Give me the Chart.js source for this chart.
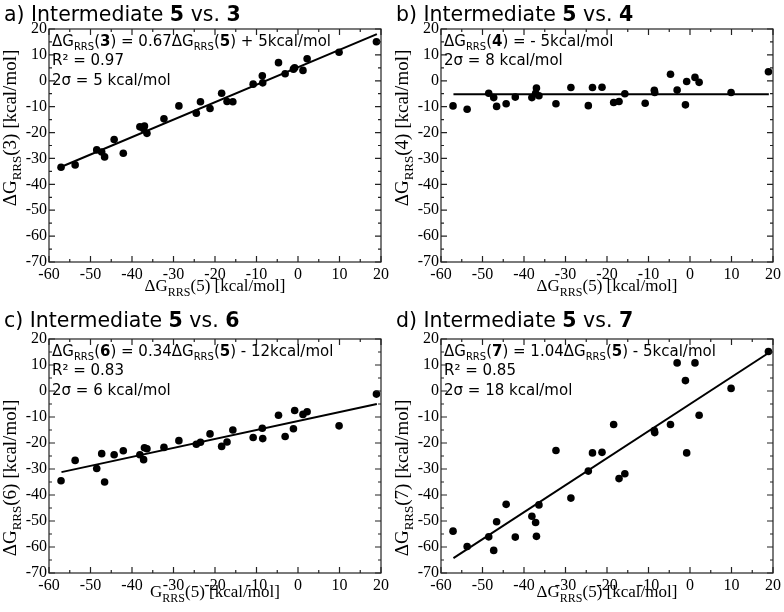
<!DOCTYPE html>
<html>
<head>
<meta charset="utf-8">
<script src="https://cdn.jsdelivr.net/npm/chart.js@4.4.1/dist/chart.umd.min.js"></script>
<style>
  html, body { margin: 0; padding: 0; background: #fff; }
  #wrap { position: relative; width: 784px; height: 612px; }
  .panel { position: absolute; width: 392px; height: 306px; }
</style>
</head>
<body>
<div id="wrap">
  <div class="panel" style="left:0;top:0"><canvas id="c0"></canvas></div>
  <div class="panel" style="left:392px;top:0"><canvas id="c1"></canvas></div>
  <div class="panel" style="left:0;top:306px"><canvas id="c2"></canvas></div>
  <div class="panel" style="left:392px;top:306px"><canvas id="c3"></canvas></div>
</div>
<script>
'use strict';

// x values: dG_RRS(5), shared by all four panels
const xVals = [-57.1, -53.7, -48.5, -47.3, -46.6, -44.3, -42.1, -38.1, -37.2, -37.0,
    -36.4, -32.3, -28.7, -24.5, -23.5, -21.2, -18.4, -17.1, -15.7, -10.8,
    -8.6, -8.5, -4.7, -3.1, -1.1, -0.8, 1.2, 2.2, 9.9, 18.9];

const yVals3 = [-33.4, -32.5, -26.7, -27.5, -29.4, -22.7, -28.0, -17.8, -18.5, -17.5,
    -20.3, -14.7, -9.7, -12.5, -8.1, -10.7, -4.8, -8.0, -8.1, -1.3,
    1.9, -0.8, 7.0, 2.7, 4.5, 5.0, 4.0, 8.5, 11.0, 15.1];

const yVals4 = [-9.7, -11.0, -4.8, -6.5, -9.9, -8.9, -6.3, -6.5, -4.8, -2.8,
    -5.8, -8.9, -2.6, -9.6, -2.6, -2.5, -8.4, -8.0, -5.0, -8.7,
    -3.7, -4.5, 2.5, -3.6, -9.3, -0.3, 1.3, -0.6, -4.5, 3.5];

const yVals6 = [-34.5, -26.7, -29.8, -24.1, -35.0, -24.5, -23.0, -24.5, -26.4, -21.8,
    -22.2, -21.7, -19.1, -20.5, -19.7, -16.5, -21.3, -19.6, -15.0, -17.9,
    -14.3, -18.3, -9.3, -17.5, -14.5, -7.5, -9.0, -8.0, -13.4, -1.2];

const yVals7 = [-53.9, -59.8, -56.1, -61.3, -50.3, -43.6, -56.2, -48.2, -50.6, -55.9,
    -43.8, -22.9, -41.2, -30.8, -23.8, -23.6, -12.9, -33.7, -31.8, null,
    -15.2, -16.0, -12.9, 10.8, 4.0, -23.8, 10.8, -9.3, 1.0, 15.2];

// regression line end points
const fitX = [-57, 19];
const fitY3 = [-33.2, 18.0];
const fitY4 = [-5.2, -5.2];
const fitY6 = [-31.2, -5.0];
const fitY7 = [-64.3, 14.7];

const panelLetters = ['a', 'b', 'c', 'd'];
const compounds = ['3', '4', '6', '7'];
const yData = [yVals3, yVals4, yVals6, yVals7];
const fitData = [fitY3, fitY4, fitY6, fitY7];
const statLines = [
    [[{t: '0.67'}, {t: 'ΔG'}, {t: 'RRS', sub: true}, {t: '('}, {t: '5', b: true}, {t: ') + 5kcal/mol'}], 'R² = 0.97', '2σ = 5 kcal/mol'],
    [[{t: '- 5kcal/mol'}], '2σ = 8 kcal/mol'],
    [[{t: '0.34'}, {t: 'ΔG'}, {t: 'RRS', sub: true}, {t: '('}, {t: '5', b: true}, {t: ') - 12kcal/mol'}], 'R² = 0.83', '2σ = 6 kcal/mol'],
    [[{t: '1.04'}, {t: 'ΔG'}, {t: 'RRS', sub: true}, {t: '('}, {t: '5', b: true}, {t: ') - 5kcal/mol'}], 'R² = 0.85', '2σ = 18 kcal/mol']
];
const xTitleLead = ['ΔG', 'ΔG', 'G', 'ΔG'];

const SANS = '"DejaVu Sans", sans-serif';
const SERIF = '"Liberation Serif", "DejaVu Serif", serif';

function drawRuns(ctx, runs, x, y, size, family) {
    runs.forEach(r => {
        const s = r.sub ? Math.round(size * 0.68) : size;
        ctx.font = (r.b ? 'bold ' : '') + s + 'px ' + family;
        ctx.fillText(r.t, x, y + (r.sub ? size * 0.28 : 0));
        x += ctx.measureText(r.t).width;
    });
    return x;
}

function runsWidth(ctx, runs, size, family) {
    let w = 0;
    runs.forEach(r => {
        const s = r.sub ? Math.round(size * 0.68) : size;
        ctx.font = (r.b ? 'bold ' : '') + s + 'px ' + family;
        w += ctx.measureText(r.t).width;
    });
    return w;
}

const decorPlugin = {
    id: 'decor',
    afterDraw(chart, args, opts) {
        const ctx = chart.ctx;
        const a = chart.chartArea;
        const xs = chart.scales.x, ys = chart.scales.y;
        ctx.save();
        ctx.fillStyle = '#000';
        ctx.textBaseline = 'alphabetic';

        // frame + inward ticks on all sides
        ctx.strokeStyle = '#222';
        ctx.lineWidth = 1.2;
        ctx.strokeRect(a.left, a.top, a.right - a.left, a.bottom - a.top);
        ctx.beginPath();
        for (let v = -60; v <= 20; v += 5) {
            const px = xs.getPixelForValue(v);
            const len = v % 10 === 0 ? 6 : 3;
            ctx.moveTo(px, a.bottom); ctx.lineTo(px, a.bottom - len);
            ctx.moveTo(px, a.top); ctx.lineTo(px, a.top + len);
        }
        for (let v = -70; v <= 20; v += 5) {
            const py = ys.getPixelForValue(v);
            const len = v % 10 === 0 ? 6 : 3;
            ctx.moveTo(a.left, py); ctx.lineTo(a.left + len, py);
            ctx.moveTo(a.right, py); ctx.lineTo(a.right - len, py);
        }
        ctx.stroke();

        // panel title
        drawRuns(ctx, [{t: opts.letter + ') Intermediate '}, {t: '5', b: true}, {t: ' vs. '}, {t: opts.cmp, b: true}], 4, 21, 20.5, SANS);

        // stats text
        let by = a.top + 16.5;
        opts.stats.forEach((line, i) => {
            let runs;
            if (i === 0) {
                runs = [{t: 'ΔG'}, {t: 'RRS', sub: true}, {t: '('}, {t: opts.cmp, b: true}, {t: ') = '}].concat(line);
            } else {
                runs = [{t: line}];
            }
            drawRuns(ctx, runs, a.left + 3, by, 15, SANS);
            by += 19.7;
        });

        // x axis title
        const xt = [{t: opts.xLead}, {t: 'RRS', sub: true}, {t: '(5) [kcal/mol]'}];
        const xw = runsWidth(ctx, xt, 17, SERIF);
        drawRuns(ctx, xt, (a.left + a.right) / 2 - xw / 2, 291, 17, SERIF);

        // y axis title
        const yt = [{t: 'ΔG'}, {t: 'RRS', sub: true}, {t: '(' + opts.cmp + ') [kcal/mol]'}];
        const yw = runsWidth(ctx, yt, 19, SERIF);
        ctx.translate(16, opts.yTitleCenter);
        ctx.rotate(-Math.PI / 2);
        drawRuns(ctx, yt, -yw / 2, 0, 19, SERIF);
        ctx.restore();
    }
};

function makePanel(i) {
    const bottomRow = i >= 2;
    const pts = [];
    xVals.forEach((x, k) => {
        if (yData[i][k] !== null) pts.push({x: x, y: yData[i][k]});
    });
    const fit = fitX.map((x, k) => ({x: x, y: fitData[i][k]}));
    return new Chart(document.getElementById('c' + i), {
        type: 'scatter',
        data: {
            datasets: [
                {
                    type: 'line',
                    data: fit,
                    borderColor: '#000',
                    borderWidth: 2,
                    pointRadius: 0,
                    fill: false
                },
                {
                    data: pts,
                    backgroundColor: '#000',
                    borderColor: '#000',
                    pointRadius: 3.8,
                    borderWidth: 0
                }
            ]
        },
        options: {
            responsive: false,
            animation: false,
            layout: {padding: {top: bottomRow ? 33 : 29, right: 10, left: 0, bottom: 0}},
            scales: {
                x: {
                    type: 'linear', min: -60, max: 20,
                    afterFit: s => { s.height = bottomRow ? 39 : 44; },
                    grid: {display: false, drawTicks: false},
                    border: {display: false},
                    ticks: {stepSize: 10, padding: 3, color: '#000', font: {family: SERIF, size: 16}, maxRotation: 0, autoSkip: false}
                },
                y: {
                    type: 'linear', min: -70, max: 20,
                    afterFit: s => { s.width = 49; },
                    grid: {display: false, drawTicks: false},
                    border: {display: false},
                    ticks: {stepSize: 10, padding: 2, color: '#000', font: {family: SERIF, size: 16}, autoSkip: false}
                }
            },
            plugins: {
                legend: {display: false},
                tooltip: {enabled: false},
                decor: {
                    letter: panelLetters[i],
                    cmp: compounds[i],
                    stats: statLines[i],
                    xLead: xTitleLead[i],
                    yTitleCenter: bottomRow ? 172 : 128
                }
            }
        },
        plugins: [decorPlugin]
    });
}

[0, 1, 2, 3].forEach(i => {
    const c = document.getElementById('c' + i);
    c.width = 392; c.height = 306;
    makePanel(i);
});
</script>
</body>
</html>
